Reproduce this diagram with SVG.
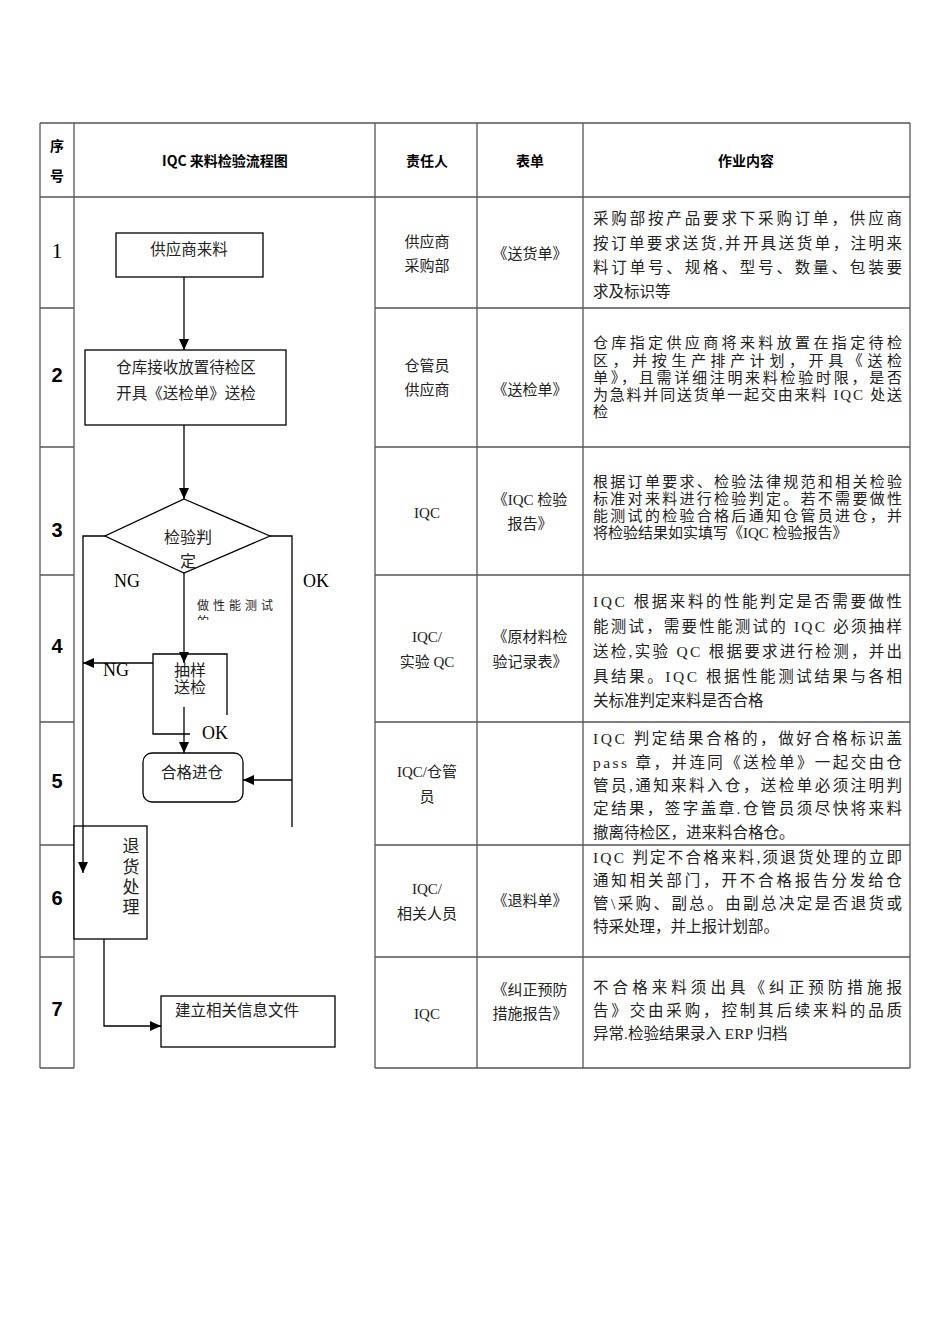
<svg xmlns="http://www.w3.org/2000/svg" width="950" height="1344" viewBox="0 0 950 1344">
<style>
.grid{stroke:#555;stroke-width:1.3;fill:none}
.fl{stroke:#000;stroke-width:1.3;fill:none}
.box{stroke:#000;stroke-width:1.3;fill:#fff}
.hd{font-family:"Noto Sans CJK SC","Liberation Sans",sans-serif;font-size:14px;font-weight:bold;fill:#000;text-anchor:middle;dominant-baseline:central}
.num{font-family:"Liberation Sans",sans-serif;font-size:20px;font-weight:bold;fill:#000;text-anchor:middle;dominant-baseline:central}
.t{font-family:"Liberation Serif","Noto Sans CJK SC",serif;font-size:15px;fill:#222;dominant-baseline:central}
.c{text-anchor:middle}
.p{font-family:"Liberation Serif","Noto Sans CJK SC",serif;font-size:15.5px;fill:#222;dominant-baseline:central}
.p2{font-family:"Liberation Serif","Noto Sans CJK SC",serif;font-size:15px;fill:#222;dominant-baseline:central}
.lbl{font-family:"Liberation Serif",serif;font-size:18px;fill:#000;text-anchor:middle;dominant-baseline:central}
.sm{font-family:"Noto Sans CJK SC",sans-serif;font-size:12px;fill:#222;dominant-baseline:central}
</style>
<defs>
<marker id="ah" markerWidth="12" markerHeight="10" refX="11" refY="5" orient="auto" markerUnits="userSpaceOnUse">
<path d="M0,0 L11,5 L0,10 Z" fill="#000"/>
</marker>
<clipPath id="clipTest"><rect x="190" y="590" width="100" height="30"/></clipPath>
</defs>
<rect width="950" height="1344" fill="#fff"/>

<g id="table">
<line class="grid" x1="40" y1="123" x2="910" y2="123"/>
<line class="grid" x1="40" y1="197" x2="910" y2="197"/>
<line class="grid" x1="40" y1="123" x2="40" y2="1068"/>
<line class="grid" x1="74" y1="123" x2="74" y2="1068"/>
<line class="grid" x1="375" y1="123" x2="375" y2="1068"/>
<line class="grid" x1="477" y1="123" x2="477" y2="1068"/>
<line class="grid" x1="583" y1="123" x2="583" y2="1068"/>
<line class="grid" x1="910" y1="123" x2="910" y2="1068"/>
<path class="grid" d="M40,308H74M40,447H74M40,575H74M40,722H74M40,845H74M40,957H74M40,1068H74"/>
<path class="grid" d="M375,308H910M375,447H910M375,575H910M375,722H910M375,845H910M375,957H910M375,1068H910"/>
</g>

<g id="header">
<text class="hd" x="57" y="145">序</text>
<text class="hd" x="57" y="175">号</text>
<text class="hd" x="225" y="160">IQC 来料检验流程图</text>
<text class="hd" x="427" y="160">责任人</text>
<text class="hd" x="530" y="160">表单</text>
<text class="hd" x="746" y="160">作业内容</text>
</g>

<g id="row-numbers">
<text class="num" x="57" y="250" style="font-family:'Liberation Serif',serif;font-weight:normal;font-size:22px">1</text>
<text class="num" x="57" y="375">2</text>
<text class="num" x="57" y="530">3</text>
<text class="num" x="57" y="646">4</text>
<text class="num" x="57" y="781">5</text>
<text class="num" x="57" y="898">6</text>
<text class="num" x="57" y="1009">7</text>
</g>

<g id="responsible">
<text class="t c" x="427" y="242">供应商</text>
<text class="t c" x="427" y="266">采购部</text>
<text class="t c" x="427" y="366">仓管员</text>
<text class="t c" x="427" y="390">供应商</text>
<text class="t c" x="427" y="513">IQC</text>
<text class="t c" x="427" y="637">IQC/</text>
<text class="t c" x="427" y="662">实验 QC</text>
<text class="t c" x="427" y="772">IQC/仓管</text>
<text class="t c" x="427" y="797">员</text>
<text class="t c" x="427" y="889">IQC/</text>
<text class="t c" x="427" y="914">相关人员</text>
<text class="t c" x="427" y="1014">IQC</text>
</g>

<g id="forms">
<text class="t c" x="530" y="254">《送货单》</text>
<text class="t c" x="530" y="390">《送检单》</text>
<text class="t c" x="530" y="500">《IQC 检验</text>
<text class="t c" x="530" y="524">报告》</text>
<text class="t c" x="530" y="637">《原材料检</text>
<text class="t c" x="530" y="662">验记录表》</text>
<text class="t c" x="530" y="901">《退料单》</text>
<text class="t c" x="530" y="990">《纠正预防</text>
<text class="t c" x="530" y="1014">措施报告》</text>
</g>

<g id="content">
<text class="p" x="593" y="218" textLength="309" lengthAdjust="spacing">采购部按产品要求下采购订单，供应商</text>
<text class="p" x="593" y="243" textLength="309" lengthAdjust="spacing">按订单要求送货,并开具送货单，注明来</text>
<text class="p" x="593" y="267" textLength="309" lengthAdjust="spacing">料订单号、规格、型号、数量、包装要</text>
<text class="p" x="593" y="291">求及标识等</text>

<text class="p2" x="593" y="343" textLength="309" lengthAdjust="spacing">仓库指定供应商将来料放置在指定待检</text>
<text class="p2" x="593" y="361" textLength="309" lengthAdjust="spacing">区，并按生产排产计划，开具《送检</text>
<text class="p2" x="593" y="378" textLength="309" lengthAdjust="spacing">单》，且需详细注明来料检验时限，是否</text>
<text class="p2" x="593" y="395" textLength="309" lengthAdjust="spacing">为急料并同送货单一起交由来料 IQC 处送</text>
<text class="p2" x="593" y="412">检</text>

<text class="p2" x="593" y="482" textLength="309" lengthAdjust="spacing">根据订单要求、检验法律规范和相关检验</text>
<text class="p2" x="593" y="499" textLength="309" lengthAdjust="spacing">标准对来料进行检验判定。若不需要做性</text>
<text class="p2" x="593" y="516" textLength="309" lengthAdjust="spacing">能测试的检验合格后通知仓管员进仓，并</text>
<text class="p2" x="593" y="533">将检验结果如实填写《IQC 检验报告》</text>

<text class="p" x="593" y="601" textLength="309" lengthAdjust="spacing">IQC 根据来料的性能判定是否需要做性</text>
<text class="p" x="593" y="626" textLength="309" lengthAdjust="spacing">能测试，需要性能测试的 IQC 必须抽样</text>
<text class="p" x="593" y="651" textLength="309" lengthAdjust="spacing">送检,实验 QC 根据要求进行检测，并出</text>
<text class="p" x="593" y="676" textLength="309" lengthAdjust="spacing">具结果。IQC 根据性能测试结果与各相</text>
<text class="p" x="593" y="700">关标准判定来料是否合格</text>

<text class="p" x="593" y="738" textLength="309" lengthAdjust="spacing">IQC 判定结果合格的，做好合格标识盖</text>
<text class="p" x="593" y="762" textLength="309" lengthAdjust="spacing">pass 章，并连同《送检单》一起交由仓</text>
<text class="p" x="593" y="785" textLength="309" lengthAdjust="spacing">管员,通知来料入仓，送检单必须注明判</text>
<text class="p" x="593" y="808" textLength="309" lengthAdjust="spacing">定结果，签字盖章.仓管员须尽快将来料</text>
<text class="p" x="593" y="832">撤离待检区，进来料合格仓。</text>

<text class="p" x="593" y="857" textLength="309" lengthAdjust="spacing">IQC 判定不合格来料,须退货处理的立即</text>
<text class="p" x="593" y="880" textLength="309" lengthAdjust="spacing">通知相关部门，开不合格报告分发给仓</text>
<text class="p" x="593" y="903" textLength="309" lengthAdjust="spacing">管\采购、副总。由副总决定是否退货或</text>
<text class="p" x="593" y="926">特采处理，并上报计划部。</text>

<text class="p" x="593" y="987" textLength="309" lengthAdjust="spacing">不合格来料须出具《纠正预防措施报</text>
<text class="p" x="593" y="1010" textLength="309" lengthAdjust="spacing">告》交由采购，控制其后续来料的品质</text>
<text class="p" x="593" y="1033">异常.检验结果录入 ERP 归档</text>
</g>

<g id="connectors">
<line class="fl" x1="184" y1="277" x2="184" y2="350" marker-end="url(#ah)"/>
<line class="fl" x1="184" y1="425" x2="184" y2="499" marker-end="url(#ah)"/>
<polyline class="fl" points="105,536 83,536 83,873" marker-end="url(#ah)"/>
<polyline class="fl" points="270,536 292,536 292,827"/>
<line class="fl" x1="292" y1="780" x2="243" y2="780" marker-end="url(#ah)"/>
<line class="fl" x1="184" y1="573" x2="184" y2="663" marker-end="url(#ah)"/>
<line class="fl" x1="153" y1="663" x2="83" y2="663" marker-end="url(#ah)"/>
<line class="fl" x1="184" y1="707" x2="184" y2="753" marker-end="url(#ah)"/>
<polyline class="fl" points="104,939 104,1026 161,1026" marker-end="url(#ah)"/>
<text class="lbl" x="127" y="581">NG</text>
<text class="lbl" x="316" y="581">OK</text>
<text class="lbl" x="116" y="670">NG</text>
<text class="lbl" x="215" y="733">OK</text>
<g clip-path="url(#clipTest)">
<text class="sm" x="197" y="604" textLength="76" lengthAdjust="spacing">做性能测试</text>
<text class="sm" x="197" y="620">的</text>
</g>
</g>

<g id="node-supplier">
<rect class="box" x="116" y="233" width="147" height="44"/>
<text class="t c" x="189" y="249" style="font-size:15.5px">供应商来料</text>
</g>

<g id="node-warehouse">
<rect class="box" x="85" y="350" width="201" height="75"/>
<text class="t c" x="186" y="367" style="font-size:15.5px">仓库接收放置待检区</text>
<text class="t c" x="186" y="393" style="font-size:15.5px">开具《送检单》送检</text>
</g>

<g id="node-decision">
<polygon class="box" points="184,499 270,536 184,573 105,536"/>
<text class="t c" x="188" y="537" style="font-size:16px">检验判</text>
<text class="t c" x="188" y="561" style="font-size:16px">定</text>
</g>

<g id="node-sample">
<polyline class="fl" points="190,734 153,734 153,654 227,654 227,715"/>
<text class="t c" x="190" y="670" style="font-size:16px">抽样</text>
<text class="t c" x="190" y="687" style="font-size:16px">送检</text>
</g>

<g id="node-pass">
<rect class="box" x="143" y="753" width="100" height="49" rx="9"/>
<text class="t c" x="192" y="772" style="font-size:15.5px">合格进仓</text>
</g>

<g id="node-return">
<rect class="box" x="74" y="826" width="73" height="113"/>
<line class="fl" x1="83" y1="826" x2="83" y2="873" marker-end="url(#ah)"/>
<text class="t c" x="131" y="846" style="font-size:17px">退</text>
<text class="t c" x="131" y="867" style="font-size:17px">货</text>
<text class="t c" x="131" y="887" style="font-size:17px">处</text>
<text class="t c" x="131" y="907" style="font-size:17px">理</text>
</g>

<g id="node-record">
<rect class="box" x="161" y="996" width="174" height="51"/>
<text class="t" x="175" y="1010" style="font-size:15.5px">建立相关信息文件</text>
</g>
</svg>
